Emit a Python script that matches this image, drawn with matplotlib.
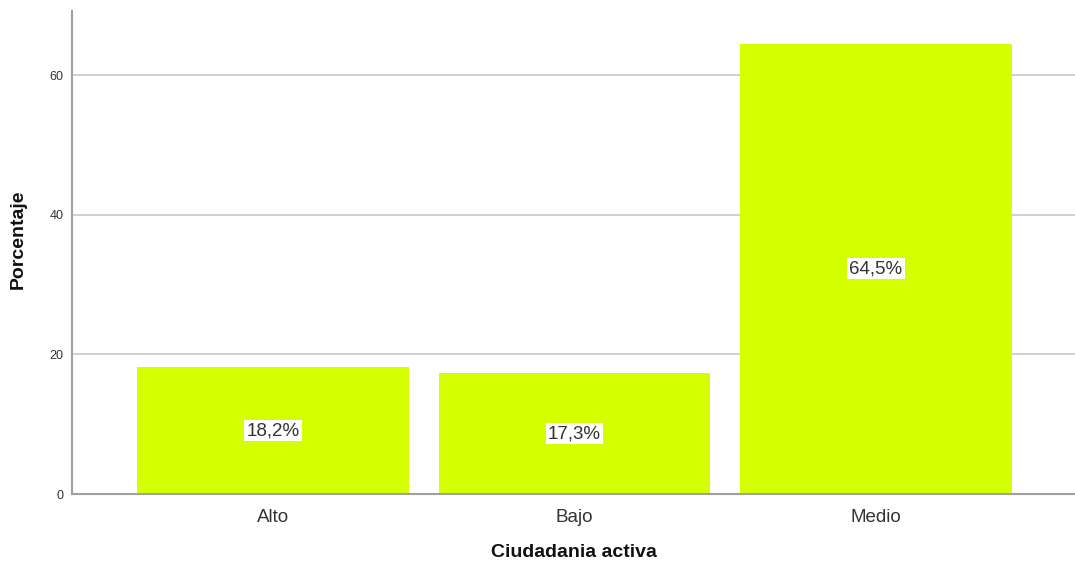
import matplotlib.pyplot as plt

categorias = ['Alto', 'Bajo', 'Medio']
porcentajes = [18.2, 17.3, 64.5]
etiquetas = ['18,2%', '17,3%', '64,5%']
yticks = [0, 20, 40, 60]

plt.rcParams['font.family'] = ['Liberation Sans', 'DejaVu Sans']

fig = plt.figure(figsize=(10.75, 5.68), dpi=100)
ax = fig.add_axes([0.067, 0.130, 0.933, 0.851])

x = range(len(categorias))
ax.bar(x, porcentajes, width=0.9, color='#d4ff00', zorder=2)

for xi, v, lab in zip(x, porcentajes, etiquetas):
    ax.text(xi, v / 2, lab, ha='center', va='center', fontsize=13.5, color='#333333',
            bbox=dict(facecolor='white', edgecolor='none', pad=1.5), zorder=3)

ax.set_xlim(-0.667, 2.66)
ax.set_ylim(0, 69.2)
ax.set_yticks(yticks)
ax.set_xticks(list(x))
ax.set_xticklabels(categorias, fontsize=13.5, color='#333333')
ax.tick_params(axis='y', labelsize=9, labelcolor='#333333', length=0, pad=6)
ax.tick_params(axis='x', length=0, pad=11)
ax.yaxis.grid(True, color='#c8c8c8', linewidth=1.2, zorder=0)
ax.set_axisbelow(True)

for s in ['top', 'right']:
    ax.spines[s].set_visible(False)
for s in ['left', 'bottom']:
    ax.spines[s].set_color('#a0a0a0')
    ax.spines[s].set_linewidth(1.5)

ax.set_ylabel('Porcentaje', fontsize=14, fontweight='bold', color='#111111')
ax.set_xlabel('Ciudadania activa', fontsize=14, fontweight='bold', color='#111111')
ax.yaxis.set_label_coords(-0.045, 0.528)
ax.xaxis.set_label_coords(0.5, -0.104)

fig.savefig('out.png', dpi=100)
